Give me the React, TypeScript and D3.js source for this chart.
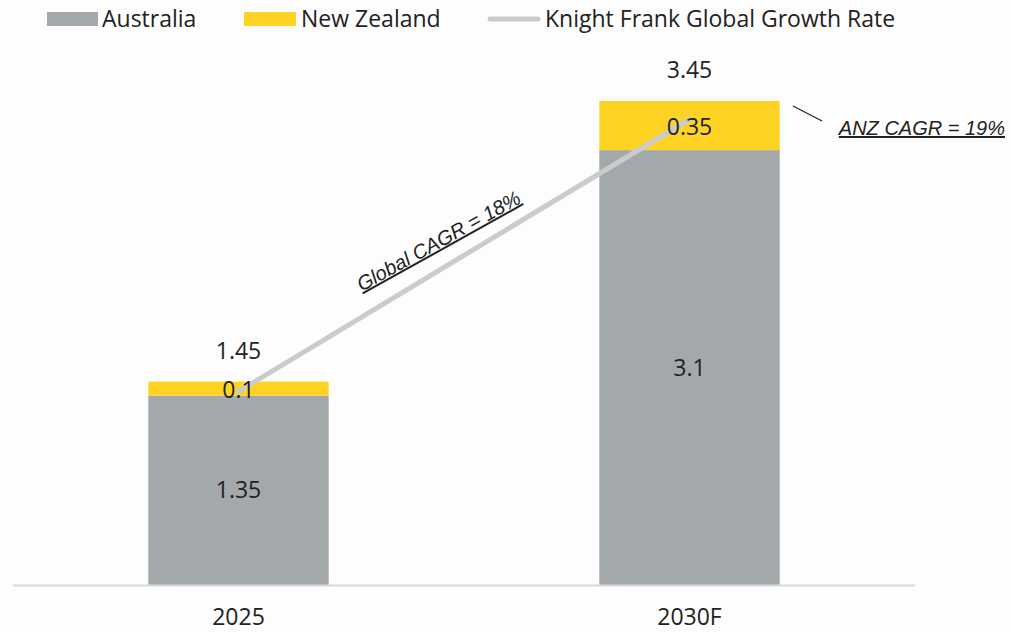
import React from "react";
import * as d3 from "d3";

const categories = ["2025", "2030F"];
const australia = [1.35, 3.1];
const newZealand = [0.1, 0.35];
const totals = [1.45, 3.45];
const globalGrowth = [1.38, 3.32];
const legendLabels = ["Australia", "New Zealand", "Knight Frank Global Growth Rate"];

const W = 1010;
const H = 632;
const FONT = "'Open Sans', 'Noto Sans', sans-serif";
const GRAY = "#a3a8aa";
const YELLOW = "#ffd324";
const LINE = "#c9cccc";
const TEXT = "#222";
const FS = 23;

export default function App() {
  const x = d3.scaleBand<string>().domain(categories).range([13, 915]).paddingInner(0.6).paddingOuter(0.3);
  const y = d3.scaleLinear().domain([0, 3.45]).range([585, 101]);
  const bw = x.bandwidth();
  const cx = (c: string) => (x(c) as number) + bw / 2;

  const lineGen = d3
    .line<number>()
    .x((_, i) => cx(categories[i]))
    .y((d) => y(d));

  const x0 = cx(categories[0]);
  const x1 = cx(categories[1]);
  const angle = (Math.atan2(y(globalGrowth[1]) - y(globalGrowth[0]), x1 - x0) * 180) / Math.PI;

  return (
    <div style={{ position: "fixed", left: 0, top: 0 }}>
      <svg width={W} height={H} style={{ display: "block", background: "#fdfdfd" }} fontFamily={FONT}>
        {/* legend */}
        <g fontSize={FS} fill={TEXT}>
          <rect x={47} y={12} width={51} height={14} fill={GRAY} />
          <text x={102} y={27}>{legendLabels[0]}</text>
          <rect x={244} y={12} width={52} height={14} fill={YELLOW} />
          <text x={301} y={27}>{legendLabels[1]}</text>
          <line x1={490} y1={19} x2={538} y2={19} stroke={LINE} strokeWidth={5} strokeLinecap="round" />
          <text x={545} y={27}>{legendLabels[2]}</text>
        </g>

        {/* bars */}
        {categories.map((c, i) => (
          <g key={c}>
            <rect x={x(c)} y={y(australia[i])} width={bw} height={y(0) - y(australia[i])} fill={GRAY} />
            <rect
              x={x(c)}
              y={y(australia[i] + newZealand[i])}
              width={bw}
              height={y(australia[i]) - y(australia[i] + newZealand[i])}
              fill={YELLOW}
            />
          </g>
        ))}

        {/* axis */}
        <line x1={13} x2={915} y1={585.5} y2={585.5} stroke="#d9d9d9" strokeWidth={2} />
        {categories.map((c) => (
          <text key={c} x={cx(c)} y={625} textAnchor="middle" fontSize={FS} fill={TEXT}>
            {c}
          </text>
        ))}

        {/* global line */}
        <path d={lineGen(globalGrowth) || ""} fill="none" stroke={LINE} strokeWidth={5} strokeLinecap="round" />

        {/* labels */}
        {categories.map((c, i) => (
          <g key={"l" + c} fontSize={FS} fill={TEXT} textAnchor="middle">
            <text x={cx(c)} y={(y(0) + y(australia[i])) / 2 + 8}>{australia[i]}</text>
            <text x={cx(c)} y={(y(australia[i]) + y(australia[i] + newZealand[i])) / 2 + 9}>{newZealand[i]}</text>
            <text x={cx(c)} y={y(totals[i]) - 23}>{totals[i]}</text>
          </g>
        ))}

        {/* annotations */}
        <text
          transform={`translate(442,247) rotate(${angle + 2})`}
          textAnchor="middle"
          fontSize={20}
          fontStyle="italic"
          textDecoration="underline"
          fill={TEXT}
          fontFamily="'Liberation Sans', sans-serif"
        >
          Global CAGR = 18%
        </text>
        <line x1={793} y1={106} x2={822} y2={121} stroke={TEXT} strokeWidth={1.2} />
        <text
          x={1005}
          y={135}
          textAnchor="end"
          fontSize={20}
          fontStyle="italic"
          textDecoration="underline"
          fill={TEXT}
          fontFamily="'Liberation Sans', sans-serif"
        >
          ANZ CAGR = 19%
        </text>
      </svg>
    </div>
  );
}
